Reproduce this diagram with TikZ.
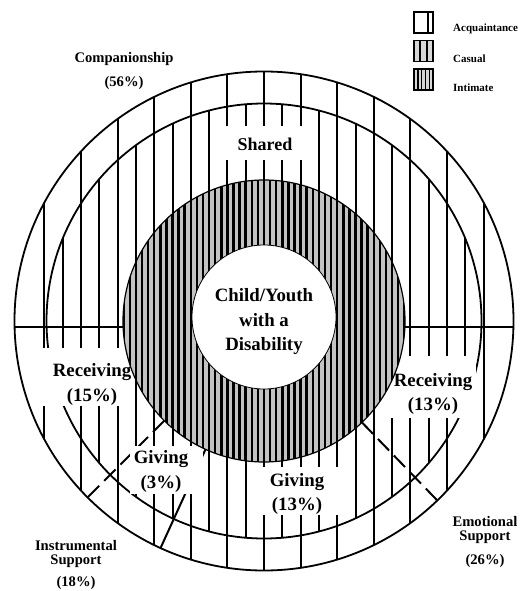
\documentclass[tikz,border=0pt]{standalone}
\usepackage{fontspec}
\setmainfont{Liberation Serif}
\usetikzlibrary{calc}
\definecolor{hatchgray}{RGB}{195,195,195}
\definecolor{legendgray}{RGB}{215,215,215}
\begin{document}
\begin{tikzpicture}[x=1pt,y=-1pt,
  ringline/.style={line width=2pt},
  circ/.style={line width=1.8pt},
  dashline/.style={line width=2pt, dash pattern=on 16pt off 7pt},
  solidline/.style={line width=2pt},
  hatchline/.style={line width=2.5pt},
  inlbl/.style={anchor=base, inner sep=0pt, font=\bfseries\fontsize{18.8}{23}\selectfont},
  shlbl/.style={anchor=base, inner sep=0pt, font=\bfseries\fontsize{18}{22}\selectfont},
  outlblb/.style={anchor=base, inner sep=0pt, font=\bfseries\fontsize{14.6}{18}\selectfont},
  outlbl/.style={anchor=base, inner sep=0pt, font=\bfseries\fontsize{14.6}{18}\selectfont},
  leglbl/.style={anchor=base west, inner sep=0pt, font=\bfseries\fontsize{11}{13}\selectfont},
  legbox/.style={draw, line width=1.4pt, minimum width=19pt, minimum height=21pt, inner sep=0pt}]

\useasboundingbox (0,0) rectangle (522,591);
\coordinate (C) at (264,321);

% ring lines: acquaintance spacing (through both rings)
\begin{scope}
  \clip (C) circle (249.5pt);
  \foreach \m in {-6,...,6}
    \draw[ringline] ({264+36.6*\m},60) -- ({264+36.6*\m},580);
\end{scope}
% ring lines: casual spacing (middle ring only)
\begin{scope}
  \clip (C) circle (217.5pt);
  \foreach \m in {-11,-9,...,11}
    \draw[ringline] ({264+18.3*\m},90) -- ({264+18.3*\m},550);
\end{scope}

% circles
\draw[circ] (C) circle (249.5pt);
\draw[circ] (C) circle (217.5pt);

% horizontal divider
\coordinate (hL) at (14.5,327);
\coordinate (hR) at (513.5,327);
\draw[circ] (hL) -- (hR);

% sector dividers
\coordinate (dL1) at ($(C)+(135:141)$);
\coordinate (dL2) at ($(C)+(135:249.5)$);
\coordinate (sM1) at ($(C)+(114.5:135)$);
\coordinate (sM2) at ($(C)+(114.5:249.5)$);
\coordinate (dR1) at ($(C)+(46:141)$);
\coordinate (dR2) at ($(C)+(46:249.5)$);
\draw[dashline] (dL1) -- (dL2);
\draw[solidline] (sM1) -- (sM2);
\draw[dashline] (dR1) -- (dR2);

% white gaps behind inner labels
\fill[white] (220,126) rectangle (310,160);
\fill[white] (40,348) rectangle (134.5,406);
\fill[white] (390,356) rectangle (476,418);
\fill[white] (130,446) rectangle (203,494);
\fill[white] (252,467) rectangle (343,515);

% intimate ring (hatched)
\fill[hatchgray] (C) circle (141pt);
\begin{scope}
  \clip (C) circle (141pt);
  \foreach \j in {-24,...,24}
    \draw[hatchline] ({264+6.1*\j},170) -- ({264+6.1*\j},470);
\end{scope}
\draw[line width=1.2pt] (C) circle (141pt);

% centre
\node[circle, fill=white, draw, line width=0.8pt, minimum size=144pt, inner sep=0pt] (core) at (264,317) {};
\node[inlbl] (c1) at (264,301.7) {Child/Youth};
\node[inlbl] (c2) at (264,326) {with a};
\node[inlbl] (c3) at (264,350) {Disability};

% inner labels
\node[shlbl] (shared) at (265,150) {Shared};
\node[inlbl] (recL1) at (92,376.7) {Receiving};
\node[inlbl] (recL2) at (92,401) {(15\%)};
\node[inlbl] (recR1) at (433,386.7) {Receiving};
\node[inlbl] (recR2) at (433,410.7) {(13\%)};
\node[inlbl] (givL1) at (161,463) {Giving};
\node[inlbl] (givL2) at (161,488) {(3\%)};
\node[inlbl] (givR1) at (297,486) {Giving};
\node[inlbl] (givR2) at (297,510) {(13\%)};

% outer labels
\node[outlblb] (comp1) at (124,63) {Companionship};
\node[outlblb] (comp2) at (124,87) {(56\%)};
\node[outlblb] (inst1) at (76,550.5) {Instrumental};
\node[outlblb] (inst2) at (76,564.5) {Support};
\node[outlblb] (inst3) at (76,586.7) {(18\%)};
\node[outlbl] (emo1) at (485,526.5) {Emotional};
\node[outlbl] (emo2) at (485,540.5) {Support};
\node[outlbl] (emo3) at (485,564) {(26\%)};

% legend
\node[legbox, fill=white] (lg1) at (423.5,22.5) {};
\draw[line width=1.4pt] (428,12) -- (428,33);
\node[legbox, fill=legendgray] (lg2) at (423.5,51) {};
\draw[line width=1.4pt] (420,40.5) -- (420,61.5);
\draw[line width=1.4pt] (427,40.5) -- (427,61.5);
\node[legbox, fill=legendgray] (lg3) at (423.5,79.5) {};
\foreach \xx in {417.8,421.6,425.4,429.2}
  \draw[line width=1.4pt] (\xx,69) -- (\xx,90);
\node[leglbl] (lt1) at (453,31.7) {Acquaintance};
\node[leglbl] (lt2) at (453,63) {Casual};
\node[leglbl] (lt3) at (453,91.7) {Intimate};
\end{tikzpicture}
\end{document}
